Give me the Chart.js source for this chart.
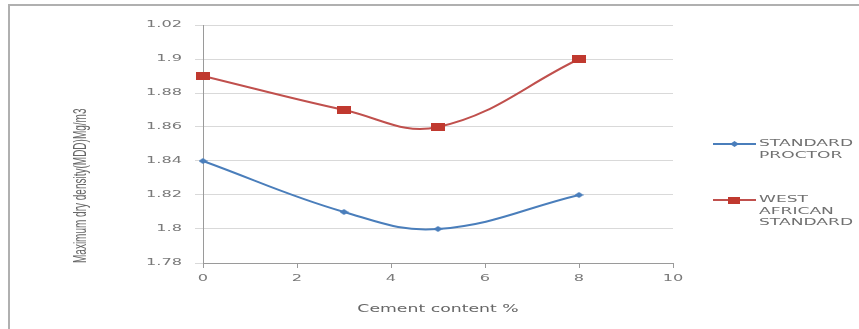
<!DOCTYPE html>
<html>
<head>
<meta charset="utf-8">
<script src="https://cdn.jsdelivr.net/npm/chart.js@4/dist/chart.umd.min.js"></script>
<style>
  html, body { margin: 0; padding: 0; background: #ffffff; }
  #wrap { position: relative; width: 859px; height: 329px; overflow: hidden; background: #ffffff; }
  canvas { position: absolute; left: 0; top: 0; }
  .edge { position: absolute; background: #b0b0b0; pointer-events: none; }
  #edgeTop { left: 8px; top: 4px; width: 851px; height: 2px; }
  #edgeLeft { left: 8px; top: 4px; width: 2px; height: 325px; }
  .lg-line { position: absolute; height: 2px; }
  .lg-mark { position: absolute; }
  .lg-text { position: absolute; font-family: "DejaVu Sans", sans-serif; font-size: 9.5px; line-height: 11.5px;
             color: #707070; transform: scaleX(1.8); transform-origin: 0 0; white-space: nowrap; }
</style>
</head>
<body>
<div id="wrap">
  <canvas id="chart" width="859" height="329"></canvas>
  <div class="edge" id="edgeTop"></div>
  <div class="edge" id="edgeLeft"></div>
  <div id="legend"></div>
</div>
<script>
// Cement content (%) on the x axis
const cementContent = [0, 3, 5, 8];
// Maximum dry density for each compaction method
const standardProctor = [1.84, 1.81, 1.80, 1.82];
const westAfricanStandard = [1.89, 1.87, 1.86, 1.90];
const seriesNames = [['STANDARD', 'PROCTOR'], ['WEST', 'AFRICAN', 'STANDARD']];

// Axis ticks
const xTickValues = [0, 2, 4, 6, 8, 10];
const yTickValues = [1.78, 1.80, 1.82, 1.84, 1.86, 1.88, 1.90, 1.92];
const yTickLabels = ['1.78', '1.8', '1.82', '1.84', '1.86', '1.88', '1.9', '1.02'];

const BLUE = '#4a7ebb';
const RED = '#c0504d';
const TEXT_STRETCH = 1.8;   // lettering is drawn wide on screen

// Marker images: small diamond and a wide block
function diamond(w, h, color) {
  const c = document.createElement('canvas');
  c.width = w; c.height = h;
  const g = c.getContext('2d');
  g.fillStyle = color;
  g.beginPath();
  g.moveTo(w / 2, 0); g.lineTo(w, h / 2); g.lineTo(w / 2, h); g.lineTo(0, h / 2);
  g.closePath(); g.fill();
  return c;
}
function block(w, h, color) {
  const c = document.createElement('canvas');
  c.width = w; c.height = h;
  const g = c.getContext('2d');
  g.fillStyle = color;
  g.fillRect(0, 0, w, h);
  return c;
}
const blueMark = diamond(9, 6, BLUE);
const redMark = block(14, 8, '#c0392f');

const toPoints = (ys) => cementContent.map((x, i) => ({ x: x, y: ys[i] }));

// Draw every canvas label stretched horizontally in screen space
const stretchText = {
  id: 'stretchText',
  beforeDraw(chart) {
    const ctx = chart.ctx;
    if (ctx._plainFillText) return;
    const plain = ctx.fillText;
    ctx._plainFillText = plain;
    ctx.fillText = function (text, x, y, maxWidth) {
      const m = this.getTransform();
      const p = m.transformPoint(new DOMPoint(x, y));
      this.save();
      this.setTransform(TEXT_STRETCH * m.a, m.b, TEXT_STRETCH * m.c, m.d, p.x, p.y);
      if (maxWidth === undefined) plain.call(this, text, 0, 0);
      else plain.call(this, text, 0, 0, maxWidth);
      this.restore();
    };
  }
};

new Chart(document.getElementById('chart'), {
  type: 'line',
  data: {
    datasets: [
      {
        label: seriesNames[0].join(' '),
        data: toPoints(standardProctor),
        borderColor: BLUE,
        backgroundColor: BLUE,
        borderWidth: 2,
        tension: 0.4,
        pointStyle: blueMark,
        pointRadius: 4,
        clip: false
      },
      {
        label: seriesNames[1].join(' '),
        data: toPoints(westAfricanStandard),
        borderColor: RED,
        backgroundColor: RED,
        borderWidth: 2,
        tension: 0.4,
        pointStyle: redMark,
        pointRadius: 6,
        clip: false
      }
    ]
  },
  options: {
    responsive: false,
    animation: false,
    devicePixelRatio: 1,
    layout: { padding: { top: 25, right: 186, bottom: 0, left: 0 } },
    plugins: { legend: { display: false }, tooltip: { enabled: false } },
    scales: {
      x: {
        type: 'linear',
        min: 0,
        max: 10,
        afterBuildTicks: (s) => { s.ticks = xTickValues.map(v => ({ value: v })); },
        afterFit: (s) => { s.height = 66; },
        grid: { drawOnChartArea: false, drawTicks: true, tickLength: 5, color: '#9a9a9a' },
        border: { color: '#9a9a9a', width: 1 },
        ticks: {
          autoSkip: false,
          maxRotation: 0,
          padding: 5,
          color: '#7a7a7a',
          font: { family: 'DejaVu Sans', size: 9 },
          callback: (v) => String(v)
        },
        title: {
          display: true,
          text: 'Cement content %',
          color: '#666666',
          font: { family: 'DejaVu Sans', size: 9.6 },
          padding: { top: 0, bottom: 14 }
        }
      },
      y: {
        type: 'linear',
        min: 1.78,
        max: 1.92,
        afterBuildTicks: (s) => { s.ticks = yTickValues.map(v => ({ value: v })); },
        afterFit: (s) => { s.width = 203; },
        grid: { color: '#d9d9d9', lineWidth: 1, drawTicks: true, tickLength: 8 },
        border: { color: '#9a9a9a', width: 1 },
        ticks: {
          padding: 13,
          color: '#7a7a7a',
          font: { family: 'DejaVu Sans', size: 9 },
          callback: (v, i) => yTickLabels[i]
        },
        title: {
          display: true,
          text: 'Maximum dry density(MDD)Mg/m3',
          align: 'start',
          color: '#666666',
          font: { family: 'Liberation Sans', size: 10 },
          padding: { top: 75, bottom: 0 }
        }
      }
    }
  },
  plugins: [stretchText]
});

// Legend beside the plot
(function () {
  const legend = document.getElementById('legend');
  const items = [
    { names: seriesNames[0], color: BLUE, y: 144, mark: diamond(9, 6, BLUE) },
    { names: seriesNames[1], color: RED, y: 200, mark: block(12, 7, '#c0392f') }
  ];
  items.forEach((it) => {
    const line = document.createElement('div');
    line.className = 'lg-line';
    line.style.left = '713px';
    line.style.width = '43px';
    line.style.top = (it.y - 1) + 'px';
    line.style.background = it.color;
    legend.appendChild(line);
    const m = it.mark;
    m.className = 'lg-mark';
    m.style.left = (734 - m.width / 2) + 'px';
    m.style.top = (it.y - m.height / 2) + 'px';
    legend.appendChild(m);
    const t = document.createElement('div');
    t.className = 'lg-text';
    t.style.left = '759px';
    t.style.top = (it.y - 7) + 'px';
    t.innerHTML = it.names.join('<br>');
    legend.appendChild(t);
  });
})();
</script>
</body>
</html>
